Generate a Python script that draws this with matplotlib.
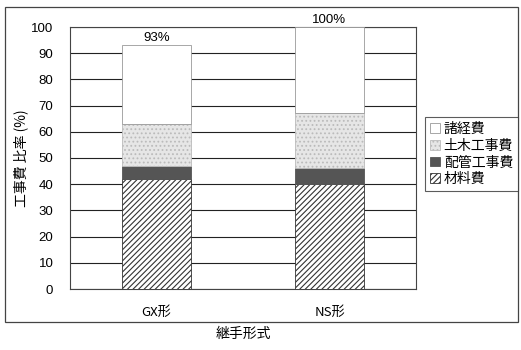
import matplotlib
matplotlib.use("Agg")
import matplotlib.pyplot as plt
from matplotlib.patches import Rectangle
import numpy as np

plt.rcParams['font.family'] = ['Noto Sans CJK JP', 'DejaVu Sans']
plt.rcParams['hatch.linewidth'] = 0.8

categories = ["GX形", "NS形"]
material = [42, 40]     # 材料費
piping = [5, 6]         # 配管工事費
civil = [16, 21]        # 土木工事費
overhead = [30, 33]     # 諸経費
totals_label = ["93%", "100%"]
yticks = list(range(0, 101, 10))

fig = plt.figure(figsize=(5.21, 3.5), dpi=100)
W, H = 521, 350
ax = fig.add_axes([70 / W, 1 - 289 / H, (416 - 70) / W, (289 - 27) / H])

x = np.arange(len(categories))
bw = 0.4
b1 = ax.bar(x, material, bw, color="white", edgecolor="#333333", hatch="//////", linewidth=0.6, zorder=3, label="材料費")
bottom = np.array(material, dtype=float)
b2 = ax.bar(x, piping, bw, bottom=bottom, color="#555555", edgecolor="#555555", linewidth=0.6, zorder=3, label="配管工事費")
bottom += piping
b3 = ax.bar(x, civil, bw, bottom=bottom, color="#e6e6e6", edgecolor="#bbbbbb", hatch="....", linewidth=0.6, zorder=3, label="土木工事費")
bottom += civil
b4 = ax.bar(x, overhead, bw, bottom=bottom, color="white", edgecolor="#999999", linewidth=0.6, zorder=3, label="諸経費")
bottom += overhead

for xi, top, lab in zip(x, bottom, totals_label):
    ax.text(xi, top + 0.5, lab, ha="center", va="bottom", fontsize=9.5, family=['Liberation Sans', 'DejaVu Sans'])

ax.set_xlim(-0.5, 1.5)
ax.set_ylim(0, 100)
ax.set_yticks(yticks)
ax.set_yticklabels([str(t) for t in yticks], family=['Liberation Sans', 'DejaVu Sans'], fontsize=9.5)
ax.set_xticks(x)
ax.set_xticklabels(categories, fontsize=9.5)
ax.tick_params(axis='both', length=0, pad=12)
ax.tick_params(axis='y', pad=12)
ax.yaxis.grid(True, color="#222222", linewidth=0.8, zorder=0)
ax.set_axisbelow(True)
for s in ax.spines.values():
    s.set_color("#444444")
    s.set_linewidth(0.8)
ax.set_xlabel("継手形式", fontsize=10, labelpad=6)
ax.set_ylabel("工事費 比率 (%)", fontsize=10, labelpad=2)

handles = [b4, b3, b2, b1]
labels = ["諸経費", "土木工事費", "配管工事費", "材料費"]
leg = fig.legend(handles, labels, loc="upper left", bbox_to_anchor=(425 / W, 1 - 117 / H),
                 frameon=True, fontsize=10, handlelength=0.7, handleheight=0.7,
                 handletextpad=0.3, labelspacing=0.2, borderpad=0.35, borderaxespad=0,
                 fancybox=False)
leg.get_frame().set_edgecolor("#333333")
leg.get_frame().set_linewidth(0.8)

fig.patches.append(Rectangle((5 / W, 1 - 322 / H), (518 - 5) / W, (322 - 7) / H,
                             transform=fig.transFigure, fill=False, edgecolor="#444444", linewidth=0.9))

fig.savefig("out.png", dpi=100)
